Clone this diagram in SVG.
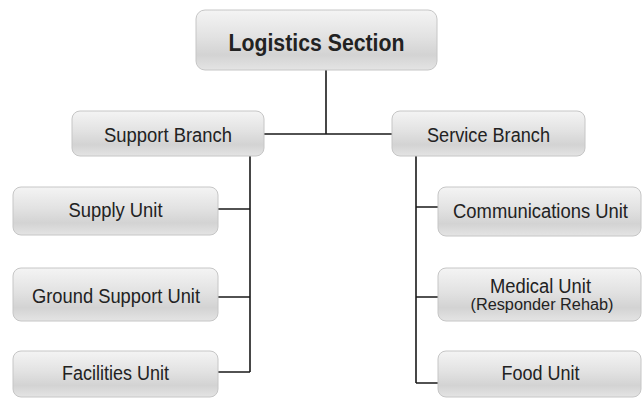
<svg xmlns="http://www.w3.org/2000/svg" width="642" height="398" viewBox="0 0 642 398">
<defs>
<linearGradient id="g" x1="0" y1="0" x2="0" y2="1">
<stop offset="0" stop-color="#f4f4f4"/>
<stop offset="0.45" stop-color="#e2e2e2"/>
<stop offset="0.75" stop-color="#d3d3d3"/>
<stop offset="1" stop-color="#e4e4e4"/>
</linearGradient>
</defs>
<style>
.box{fill:url(#g);stroke:#c6c6c6;stroke-width:1}
.t{font-family:"Liberation Sans",Arial,sans-serif;font-size:19.5px;fill:#222;text-anchor:middle}
.b{font-weight:bold;font-size:23px}
.s{font-size:16px}
.c{fill:none;stroke:#1a1a1a;stroke-width:1.6}
</style>
<rect width="642" height="398" fill="#fff"/>
<g id="connectors">
<path class="c" d="M326 70V134M264 134H393"/>
<path class="c" d="M250 156V372M218 209H250M218 297H250M218 372H250"/>
<path class="c" d="M416 156V383M416 207H438M416 297H438M416 383H438"/>
</g>
<g id="logistics"><rect class="box" x="196" y="10" width="241" height="60" rx="9"/><text class="t b" x="316.5" y="51" textLength="176" lengthAdjust="spacingAndGlyphs">Logistics Section</text></g>
<g id="support"><rect class="box" x="72" y="111" width="192" height="45" rx="8"/><text class="t" x="168" y="142" textLength="128" lengthAdjust="spacingAndGlyphs">Support Branch</text></g>
<g id="service"><rect class="box" x="392" y="111" width="193" height="45" rx="8"/><text class="t" x="488.5" y="142" textLength="123" lengthAdjust="spacingAndGlyphs">Service Branch</text></g>
<g id="supply"><rect class="box" x="13" y="187" width="205" height="48" rx="8"/><text class="t" x="115.5" y="217" textLength="94" lengthAdjust="spacingAndGlyphs">Supply Unit</text></g>
<g id="ground"><rect class="box" x="13" y="268" width="205" height="53" rx="8"/><text class="t" x="116" y="303" textLength="168" lengthAdjust="spacingAndGlyphs">Ground Support Unit</text></g>
<g id="facilities"><rect class="box" x="13" y="351" width="205" height="46" rx="8"/><text class="t" x="115.5" y="380" textLength="107" lengthAdjust="spacingAndGlyphs">Facilities Unit</text></g>
<g id="communications"><rect class="box" x="438" y="187" width="203" height="49" rx="8"/><text class="t" x="540.5" y="218" textLength="175" lengthAdjust="spacingAndGlyphs">Communications Unit</text></g>
<g id="medical"><rect class="box" x="438" y="268" width="203" height="53" rx="8"/><text class="t" x="540.5" y="293" textLength="101" lengthAdjust="spacingAndGlyphs">Medical Unit</text><text class="t s" x="542" y="310" textLength="143" lengthAdjust="spacingAndGlyphs">(Responder Rehab)</text></g>
<g id="food"><rect class="box" x="438" y="351" width="203" height="46" rx="8"/><text class="t" x="540.5" y="380" textLength="78" lengthAdjust="spacingAndGlyphs">Food Unit</text></g>
</svg>
